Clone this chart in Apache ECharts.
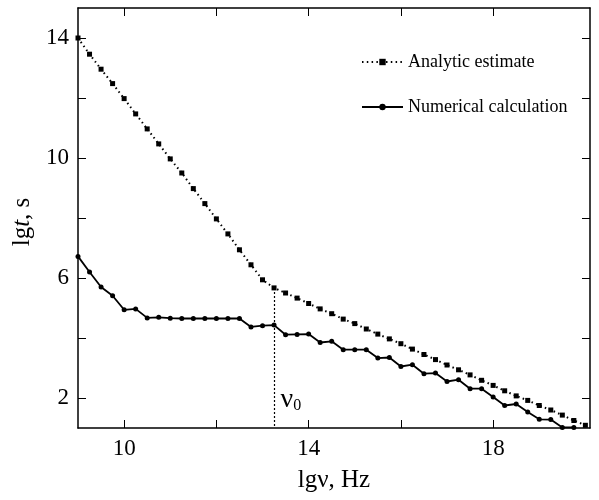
<!DOCTYPE html>
<html>
<head>
<meta charset="utf-8">
<script src="https://cdn.jsdelivr.net/npm/echarts@6/dist/echarts.min.js"></script>
<style>
	html, body { margin: 0; padding: 0; background: #fff; }
	#chart { width: 599px; height: 500px; }
</style>
</head>
<body>
<div id="chart"></div>
<script>
// lg nu values (Hz) and lg t values (s)
var analyticX = [9, 9.25, 9.5, 9.75, 10, 10.25, 10.5, 10.75, 11, 11.25, 11.5, 11.75, 12, 12.25, 12.5, 12.75,
	13, 13.25, 13.5, 13.75, 14, 14.25, 14.5, 14.75, 15, 15.25, 15.5, 15.75, 16, 16.25, 16.5, 16.75,
	17, 17.25, 17.5, 17.75, 18, 18.25, 18.5, 18.75, 19, 19.25, 19.5, 19.75, 20];
var analyticY = [14.0, 13.46, 12.96, 12.48, 11.98, 11.47, 10.97, 10.47, 9.97, 9.5, 8.98, 8.48, 7.97, 7.47, 6.94, 6.44,
	5.94, 5.67, 5.5, 5.33, 5.15, 4.97, 4.81, 4.63, 4.48, 4.30, 4.13, 3.97, 3.81, 3.63, 3.45, 3.28,
	3.10, 2.94, 2.77, 2.59, 2.42, 2.24, 2.07, 1.92, 1.75, 1.60, 1.43, 1.25, 1.09];
var numericX = [9, 9.25, 9.5, 9.75, 10, 10.25, 10.5, 10.75, 11, 11.25, 11.5, 11.75, 12, 12.25, 12.5, 12.75,
	13, 13.25, 13.5, 13.75, 14, 14.25, 14.5, 14.75, 15, 15.25, 15.5, 15.75, 16, 16.25, 16.5, 16.75,
	17, 17.25, 17.5, 17.75, 18, 18.25, 18.5, 18.75, 19, 19.25, 19.5, 19.75];
var numericY = [6.72, 6.2, 5.7, 5.41, 4.94, 4.97, 4.67, 4.69, 4.66, 4.65, 4.65, 4.65, 4.65, 4.65, 4.65, 4.37,
	4.41, 4.43, 4.11, 4.12, 4.13, 3.85, 3.89, 3.61, 3.61, 3.61, 3.33, 3.35, 3.05, 3.11, 2.81, 2.83,
	2.55, 2.61, 2.31, 2.31, 2.03, 1.75, 1.80, 1.53, 1.29, 1.28, 1.02, 1.02];
var xTicks = [10, 12, 14, 16, 18];
var xLabels = [10, 14, 18];
var yTicks = [2, 4, 6, 8, 10, 12, 14];
var yLabels = [2, 6, 10, 14];
var nu0 = 13.25; // knee of the analytic estimate
var nu0Label = 1.95;

var font = 'Liberation Serif';

function pairs(xs, ys) {
	var out = [];
	for (var i = 0; i < ys.length; i++) {
		out.push([xs[i], ys[i]]);
	}
	return out;
}

function xAxisOpt(pos, showLabel) {
	return {
		type: 'value',
		position: pos,
		min: 9,
		max: 20.1,
		axisLine: { show: true, onZero: false, lineStyle: { color: '#000', width: 1.5 } },
		axisTick: { show: true, inside: true, length: 8, customValues: xTicks, lineStyle: { color: '#000', width: 1 } },
		axisLabel: { show: showLabel, customValues: xLabels, color: '#000', fontFamily: font, fontSize: 23, margin: 9 },
		splitLine: { show: false }
	};
}

function yAxisOpt(pos, showLabel) {
	return {
		type: 'value',
		position: pos,
		min: 1,
		max: 15,
		axisLine: { show: true, onZero: false, lineStyle: { color: '#000', width: 1.5 } },
		axisTick: { show: true, inside: true, length: 8, customValues: yTicks, lineStyle: { color: '#000', width: 1 } },
		axisLabel: { show: showLabel, customValues: yLabels, color: '#000', fontFamily: font, fontSize: 23, margin: 9 },
		splitLine: { show: false }
	};
}

var myChart = echarts.init(document.getElementById('chart'), null, { renderer: 'canvas' });

var bottomX = xAxisOpt('bottom', true);
bottomX.name = 'lgν, Hz';
bottomX.nameLocation = 'middle';
bottomX.nameGap = 40;
bottomX.nameTextStyle = { color: '#000', fontFamily: font, fontSize: 25 };

var leftY = yAxisOpt('left', true);
leftY.name = '{n|lg}{i|t}{n|, s}';
leftY.nameLocation = 'middle';
leftY.nameGap = 37;
leftY.nameTextStyle = {
	color: '#000',
	fontFamily: font,
	fontSize: 25,
	padding: [0, 8, 0, 0],
	rich: {
		n: { fontFamily: font, fontSize: 25, color: '#000' },
		i: { fontFamily: font, fontSize: 25, fontStyle: 'italic', color: '#000' }
	}
};

var option = {
	animation: false,
	backgroundColor: '#fff',
	textStyle: { fontFamily: font },
	grid: { left: 78, right: 9, top: 8, bottom: 72 },
	legend: {
		orient: 'vertical',
		left: 356,
		top: 48,
		itemWidth: 41,
		itemHeight: 8,
		itemGap: 27,
		textStyle: { color: '#000', fontFamily: font, fontSize: 18 },
		data: ['Analytic estimate', 'Numerical calculation']
	},
	xAxis: [bottomX, xAxisOpt('top', false)],
	yAxis: [leftY, yAxisOpt('right', false)],
	series: [{
		name: 'Analytic estimate',
		type: 'line',
		data: pairs(analyticX, analyticY),
		symbol: 'rect',
		symbolSize: 5,
		clip: false,
		itemStyle: { color: '#000' },
		lineStyle: { color: '#000', width: 2, type: [1.5, 3.3] },
		markLine: {
			silent: true,
			symbol: 'none',
			label: { show: false },
			lineStyle: { color: '#000', width: 1.2, type: [2, 2] },
			data: [[
				{ coord: [nu0, analyticY[analyticX.indexOf(nu0)]] },
				{ coord: [nu0, 1] }
			]]
		},
		markPoint: {
			silent: true,
			symbol: 'circle',
			symbolSize: 1,
			itemStyle: { color: 'rgba(0,0,0,0)' },
			label: {
				show: true,
				position: 'right',
				distance: 6,
				formatter: '{v|ν}{s|0}',
				rich: {
					v: { fontFamily: font, fontSize: 28, color: '#000' },
					s: { fontFamily: font, fontSize: 16, color: '#000', verticalAlign: 'bottom', padding: [10, 0, 0, 0] }
				}
			},
			data: [{ coord: [nu0, nu0Label] }]
		}
	}, {
		name: 'Numerical calculation',
		type: 'line',
		data: pairs(numericX, numericY),
		symbol: 'circle',
		symbolSize: 5,
		clip: false,
		itemStyle: { color: '#000' },
		lineStyle: { color: '#000', width: 1.8 }
	}]
};
myChart.setOption(option);
</script>
</body>
</html>
